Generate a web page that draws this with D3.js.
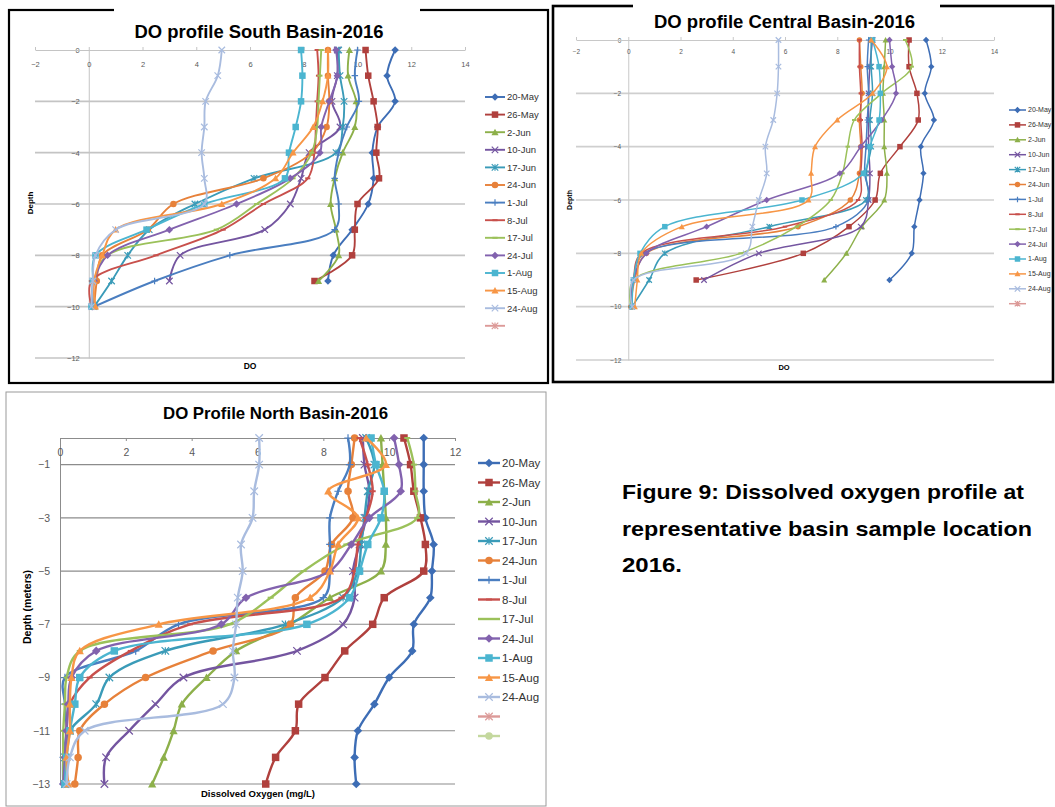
<!DOCTYPE html>
<html>
<head>
<meta charset="utf-8">
<script src="https://cdn.jsdelivr.net/npm/d3@7"></script>
<style>
  body { margin: 0; background: #fff; }
  svg { display: block; }
  text { font-family: "Liberation Sans", Arial, sans-serif; }
</style>
</head>
<body>
<svg width="1055" height="807"></svg>
<script>
// ---- data ----
const seriesNames = ['20-May', '26-May', '2-Jun', '10-Jun', '17-Jun', '24-Jun', '1-Jul',
                     '8-Jul', '17-Jul', '24-Jul', '1-Aug', '15-Aug', '24-Aug'];

const southDepth = [0, -1, -2, -3, -4, -5, -6, -7, -8, -9, -10];
const southDO = [
  [11.4, 11.1, 11.4, 10.75, 10.55, 10.6, 10.4, 9.8, 9.1, 8.9],
  [10.3, 10.4, 10.6, 10.75, 10.7, 10.8, 10.0, 9.9, 9.8, 8.4],
  [9.7, 9.65, 9.95, 9.9, 9.45, 9.15, 9.0, 9.2, 9.3, 8.55],
  [9.25, 9.25, 9.05, 9.35, 8.2, 7.9, 7.5, 6.55, 3.4, 3.0],
  [9.3, 9.35, 9.5, 9.45, 9.2, 6.15, 3.95, 2.25, 1.45, 0.85, 0.2],
  [8.9, 8.9, 8.95, 8.85, 8.3, 6.5, 3.15, 2.2, 0.5, 0.3, 0.2],
  [10.0, 9.9, 10.05, 9.6, 9.3, 9.15, 9.3, 9.15, 5.25, 2.45, 0.2],
  [8.5, 8.55, 8.5, 8.45, 8.4, 8.15, 6.5, 5.0, 2.5, 0.1, 0.1],
  [8.65, 8.6, 8.55, 8.5, 8.3, 7.6, 6.25, 4.75, 0.7, 0.2, 0.15],
  [9.2, 9.25, 8.95, 8.65, 8.6, 7.5, 5.5, 3.0, 0.7, 0.2, 0.15],
  [7.9, 7.95, 7.9, 7.7, 7.45, 7.3, 4.3, 2.15, 0.25, 0.15, 0.1],
  [8.9, 8.9, 8.7, 8.35, 7.6, 6.95, 4.95, 1.0, 0.5, 0.2, 0.25],
  [4.95, 4.8, 4.35, 4.3, 4.2, 4.3, 4.3, 1.0, 0.25, 0.15, 0.1]
];

const centralDepth = [0, -1, -2, -3, -4, -5, -6, -7, -8, -9, -10];
const centralDO = [
  [11.4, 11.6, 11.35, 11.7, 11.2, 11.3, 11.15, 10.95, 10.85, 10.0],
  [10.75, 10.75, 11.05, 11.1, 10.4, 9.65, 9.45, 8.45, 6.7, 2.6],
  [9.85, 9.8, 9.75, 9.8, 9.8, 9.9, 9.8, 8.95, 8.35, 7.5],
  [9.35, 9.25, 9.2, 9.2, 9.2, 9.25, 9.2, 8.9, 5.0, 2.9],
  [9.3, 9.3, 9.35, 9.25, 9.3, 9.1, 9.1, 5.4, 1.4, 0.8, 0.15],
  [8.85, 8.9, 8.95, 8.85, 8.9, 8.85, 8.5, 6.5, 0.7, 0.25, 0.1],
  [9.2, 9.15, 9.2, 9.15, 9.1, 9.05, 9.2, 7.95, 0.6, 0.2, 0.1],
  [8.85, 8.85, 8.9, 8.9, 8.95, 8.9, 8.8, 6.0, 0.5, 0.2, 0.1],
  [10.6, 10.85, 9.7, 8.65, 8.4, 8.2, 7.75, 6.45, 4.3, 0.2, 0.1],
  [10.0, 10.1, 10.25, 9.7, 8.9, 8.1, 5.3, 3.0, 0.7, 0.2, 0.15],
  [9.35, 9.6, 9.65, 9.6, 9.25, 9.0, 6.65, 1.4, 0.45, 0.2, 0.15],
  [9.3, 9.9, 9.35, 8.0, 7.15, 7.0, 6.9, 2.05, 0.5, 0.35, 0.25],
  [5.75, 5.75, 5.7, 5.55, 5.25, 5.3, 5.0, 4.75, 4.5, 0.2, 0.15]
];

const northDepth = [0, -1, -2, -3, -4, -5, -6, -7, -8, -9, -10, -11, -12, -13];
const northDO = [
  [11.05, 11.05, 11.05, 11.1, 11.35, 11.3, 11.25, 10.75, 10.7, 10.0, 9.55, 9.05, 8.95, 9.0],
  [10.45, 10.65, 10.75, 10.95, 11.1, 11.05, 9.85, 9.5, 8.65, 8.05, 7.25, 7.15, 6.55, 6.25],
  [9.75, 9.8, 9.85, 9.9, 9.9, 9.75, 8.2, 7.0, 5.35, 4.45, 3.7, 3.45, 3.15, 2.8],
  [9.2, 9.25, 9.4, 9.3, 9.1, 8.9, 8.95, 8.6, 7.2, 3.75, 2.9, 2.1, 1.4, 1.35],
  [9.3, 9.55, 9.35, 9.25, 9.15, 9.05, 8.6, 6.85, 3.2, 1.5, 1.1, 0.3, 0.15, 0.15],
  [8.95, 8.85, 8.75, 8.9, 8.25, 8.05, 7.15, 7.0, 4.65, 2.6, 1.35, 0.6, 0.55, 0.45],
  [8.75, 8.8, 8.45, 8.2, 8.2, 8.2, 8.0, 3.6, 2.3, 0.15, 0.15, 0.2, 0.1, 0.1],
  [9.1, 9.35, 9.5, 9.3, 9.05, 8.95, 8.55, 3.95, 2.15, 0.9, 0.3, 0.2, 0.2, 0.2],
  [10.55, 10.75, 10.8, 10.85, 8.7, 7.4, 6.4, 5.15, 0.6, 0.2, 0.15, 0.1, 0.1, 0.1],
  [10.15, 10.3, 10.35, 9.4, 8.85, 8.2, 5.65, 4.9, 1.1, 0.35, 0.25, 0.2, 0.15, 0.1],
  [9.45, 9.6, 9.85, 9.75, 9.35, 9.1, 8.8, 7.5, 1.65, 0.6, 0.45, 0.3, 0.2, 0.15],
  [9.3, 9.9, 8.15, 9.05, 8.45, 8.2, 7.6, 3.0, 0.6, 0.35, 0.3, 0.3, 0.2, 0.25],
  [6.05, 6.05, 5.9, 5.85, 5.5, 5.55, 5.4, 5.35, 5.25, 5.3, 4.95, 0.75, 0.3, 0.2]
];

const southXTicks = [-2, 0, 2, 4, 6, 8, 10, 12, 14];
const southYTicks = [0, -2, -4, -6, -8, -10, -12];
const northXTicks = [0, 2, 4, 6, 8, 10, 12];
const northYTicks = [-1, -3, -5, -7, -9, -11, -13];

const captionLines = ['Figure 9: Dissolved oxygen profile at',
                      'representative basin sample location',
                      '2016.'];

// ---- styles ----
const colors = ['#3D6DB5', '#B0403D', '#8DB04A', '#7455A0', '#3A9BB8', '#E7813A', '#4A7EC0',
                '#C8504C', '#9BC15A', '#8262AE', '#4BB5D0', '#F79646', '#A9BCDF', '#DC9A98', '#C4D89E'];
const markers = ['diamond', 'square', 'triangle', 'x', 'star', 'circle', 'plus',
                 'dash', 'dash', 'diamond', 'square', 'triangle', 'x', 'star', 'circle'];

const svg = d3.select('svg');

function drawMarker(g, type, s, color) {
    const h = s / 2;
    if (type == 'diamond') {
        g.append('path').attr('d', `M0,${-h * 1.15}L${h * 1.15},0L0,${h * 1.15}L${-h * 1.15},0Z`).attr('fill', color);
    } else if (type == 'square') {
        g.append('rect').attr('x', -h).attr('y', -h).attr('width', s).attr('height', s).attr('fill', color);
    } else if (type == 'triangle') {
        g.append('path').attr('d', `M0,${-h * 1.1}L${h * 1.1},${h * 0.9}L${-h * 1.1},${h * 0.9}Z`).attr('fill', color);
    } else if (type == 'circle') {
        g.append('circle').attr('r', h).attr('fill', color);
    } else if (type == 'x') {
        g.append('path').attr('d', `M${-h},${-h}L${h},${h}M${-h},${h}L${h},${-h}`).attr('stroke', color).attr('stroke-width', 1.2);
    } else if (type == 'star') {
        g.append('path').attr('d', `M${-h},${-h}L${h},${h}M${-h},${h}L${h},${-h}M0,${-h}V${h}`).attr('stroke', color).attr('stroke-width', 1.2);
    } else if (type == 'plus') {
        g.append('path').attr('d', `M${-h},0H${h}M0,${-h}V${h}`).attr('stroke', color).attr('stroke-width', 1.2);
    } else if (type == 'dash') {
        g.append('path').attr('d', `M${-h * 0.8},0H${h * 0.8}`).attr('stroke', color).attr('stroke-width', 2);
    }
}

function drawPanel(p) {
    const g = svg.append('g');
    const x = d3.scaleLinear().domain(p.xDomain).range(p.xRange);
    const y = d3.scaleLinear().domain(p.yDomain).range(p.yRange);

    // frame
    g.append('rect').attr('x', p.frame[0]).attr('y', p.frame[1])
        .attr('width', p.frame[2] - p.frame[0]).attr('height', p.frame[3] - p.frame[1])
        .attr('fill', 'none').attr('stroke', p.frameColor).attr('stroke-width', p.frameWidth);
    if (p.gap) {
        g.append('rect').attr('x', p.gap[0]).attr('y', p.frame[1] - 4)
            .attr('width', p.gap[1] - p.gap[0]).attr('height', 8).attr('fill', '#fff');
    }

    // gridlines
    g.append('g').selectAll('line').data(p.grid).join('line')
        .attr('x1', x(p.xDomain[0])).attr('x2', x(p.xDomain[1]))
        .attr('y1', d => y(d)).attr('y2', d => y(d))
        .attr('stroke', p.gridColor).attr('stroke-width', p.gridWidth);

    // y axis (crosses at DO = 0)
    const ya = g.append('g').attr('transform', `translate(${x(0)},0)`)
        .call(d3.axisLeft(y).tickValues(p.yTicks).tickSize(0).tickSizeOuter(0).tickPadding(p.yPad));
    ya.select('.domain').attr('stroke', p.axisColor);
    ya.selectAll('text').attr('font-size', p.tickFont).attr('fill', '#595959')
        .attr('font-family', '"Liberation Sans", Arial, sans-serif');

    // x axis along the surface (depth 0), labels under it
    const xa = g.append('g').attr('transform', `translate(0,${y(0)})`)
        .call(d3.axisTop(x).tickValues(p.xTicks).tickSize(p.xTickSize).tickSizeOuter(0).tickPadding(p.xPad));
    xa.select('.domain').attr('stroke', p.axisColor);
    xa.selectAll('.tick line').attr('stroke', p.axisColor);
    xa.selectAll('text').attr('font-size', p.tickFont).attr('fill', '#595959')
        .attr('font-family', '"Liberation Sans", Arial, sans-serif');

    // series
    const line = d3.line().x(d => x(d[0])).y(d => y(d[1])).curve(d3.curveCatmullRom.alpha(0.5));
    p.values.forEach((vals, i) => {
        const pts = vals.map((v, j) => [v, p.depth[j]]);
        g.append('path').datum(pts).attr('d', line)
            .attr('fill', 'none').attr('stroke', colors[i]).attr('stroke-width', p.lineWidth)
            .attr('stroke-linejoin', 'round');
        g.append('g').selectAll('g').data(pts).join('g')
            .attr('transform', d => `translate(${x(d[0])},${y(d[1])})`)
            .each(function () { drawMarker(d3.select(this), markers[i], p.markerSize, colors[i]); });
    });

    // legend
    const names = seriesNames.concat(d3.range(p.blanks).map(() => ''));
    const lg = g.append('g');
    names.forEach((n, i) => {
        const yy = p.legend.y + i * p.legend.step;
        lg.append('line').attr('x1', p.legend.x).attr('x2', p.legend.x + p.legend.len)
            .attr('y1', yy).attr('y2', yy).attr('stroke', colors[i]).attr('stroke-width', p.lineWidth);
        drawMarker(lg.append('g').attr('transform', `translate(${p.legend.x + p.legend.len / 2},${yy})`),
            markers[i], p.markerSize, colors[i]);
        lg.append('text').attr('x', p.legend.x + p.legend.len + 2).attr('y', yy).attr('dy', '0.35em')
            .attr('font-size', p.legend.font).attr('fill', '#333').text(n);
    });

    // titles
    g.append('text').attr('x', p.title.x).attr('y', p.title.y).attr('text-anchor', 'middle')
        .attr('font-size', p.title.size).attr('font-weight', 'bold')
        .attr('textLength', p.title.w).attr('lengthAdjust', 'spacingAndGlyphs').text(p.title.text);
    g.append('text').attr('transform', `translate(${p.yTitle.x},${p.yTitle.y}) rotate(-90)`)
        .attr('text-anchor', 'middle').attr('font-size', p.yTitle.size).attr('font-weight', 'bold')
        .text(p.yTitle.text);
    g.append('text').attr('x', p.xTitle.x).attr('y', p.xTitle.y).attr('text-anchor', 'middle')
        .attr('font-size', p.xTitle.size).attr('font-weight', 'bold').text(p.xTitle.text);
}

drawPanel({
    frame: [9, 10, 548, 383], frameColor: '#000', frameWidth: 2.2, gap: [114, 420],
    xDomain: [-2, 14], xRange: [35, 465], yDomain: [0, -12], yRange: [50, 358],
    xTicks: southXTicks, yTicks: southYTicks, grid: southYTicks.slice(1),
    gridColor: '#c4c4c4', gridWidth: 1.6, axisColor: '#c4c4c4',
    tickFont: 7.5, yPad: 9, xTickSize: 3, xPad: -19.5,
    depth: southDepth, values: southDO, lineWidth: 1.9, markerSize: 6.5, blanks: 1,
    legend: { x: 485, y: 97, step: 17.6, len: 20, font: 9.5 },
    title: { x: 259, y: 37.5, size: 17.5, w: 249, text: 'DO profile South Basin-2016' },
    yTitle: { x: 33, y: 203, size: 8, text: 'Depth' },
    xTitle: { x: 250, y: 369, size: 8.5, text: 'DO' }
});

drawPanel({
    frame: [553, 6, 1053, 382], frameColor: '#000', frameWidth: 2.6, gap: [633, 940],
    xDomain: [-2, 14], xRange: [576, 994], yDomain: [0, -12], yRange: [40, 360],
    xTicks: southXTicks, yTicks: southYTicks, grid: southYTicks.slice(1),
    gridColor: '#cfcfcf', gridWidth: 1.6, axisColor: '#c8c8c8',
    tickFont: 6.5, yPad: 7, xTickSize: 3, xPad: -17,
    depth: centralDepth, values: centralDO, lineWidth: 1.5, markerSize: 5.5, blanks: 1,
    legend: { x: 1009, y: 110, step: 14.9, len: 17, font: 7 },
    title: { x: 784.5, y: 27.5, size: 17.5, w: 261, text: 'DO profile Central Basin-2016' },
    yTitle: { x: 572, y: 200, size: 7, text: 'Depth' },
    xTitle: { x: 784, y: 370, size: 7.5, text: 'DO' }
});

drawPanel({
    frame: [6, 392, 546, 806], frameColor: '#9a9a9a', frameWidth: 1, gap: null,
    xDomain: [0, 12], xRange: [60, 455], yDomain: [0, -13], yRange: [438, 784],
    xTicks: northXTicks, yTicks: northYTicks, grid: northYTicks,
    gridColor: '#8c8c8c', gridWidth: 1.1, axisColor: '#8c8c8c',
    tickFont: 10.5, yPad: 10, xTickSize: -3, xPad: -17.5,
    depth: northDepth, values: northDO, lineWidth: 2.4, markerSize: 7.5, blanks: 2,
    legend: { x: 478, y: 463, step: 19.5, len: 22, font: 11.5 },
    title: { x: 275.5, y: 419, size: 16.5, w: 225, text: 'DO Profile North Basin-2016' },
    yTitle: { x: 31, y: 607, size: 10.5, text: 'Depth (meters)' },
    xTitle: { x: 258, y: 797, size: 9.5, text: 'Dissolved Oxygen (mg/L)' }
});

// caption
const capWidths = [402, 410, 60];
svg.append('g').selectAll('text').data(captionLines).join('text')
    .attr('x', 622).attr('y', (d, i) => 499 + i * 36.5)
    .attr('font-size', 21).attr('font-weight', 'bold').attr('fill', '#000')
    .attr('textLength', (d, i) => capWidths[i]).attr('lengthAdjust', 'spacingAndGlyphs')
    .text(d => d);
</script>
</body>
</html>
